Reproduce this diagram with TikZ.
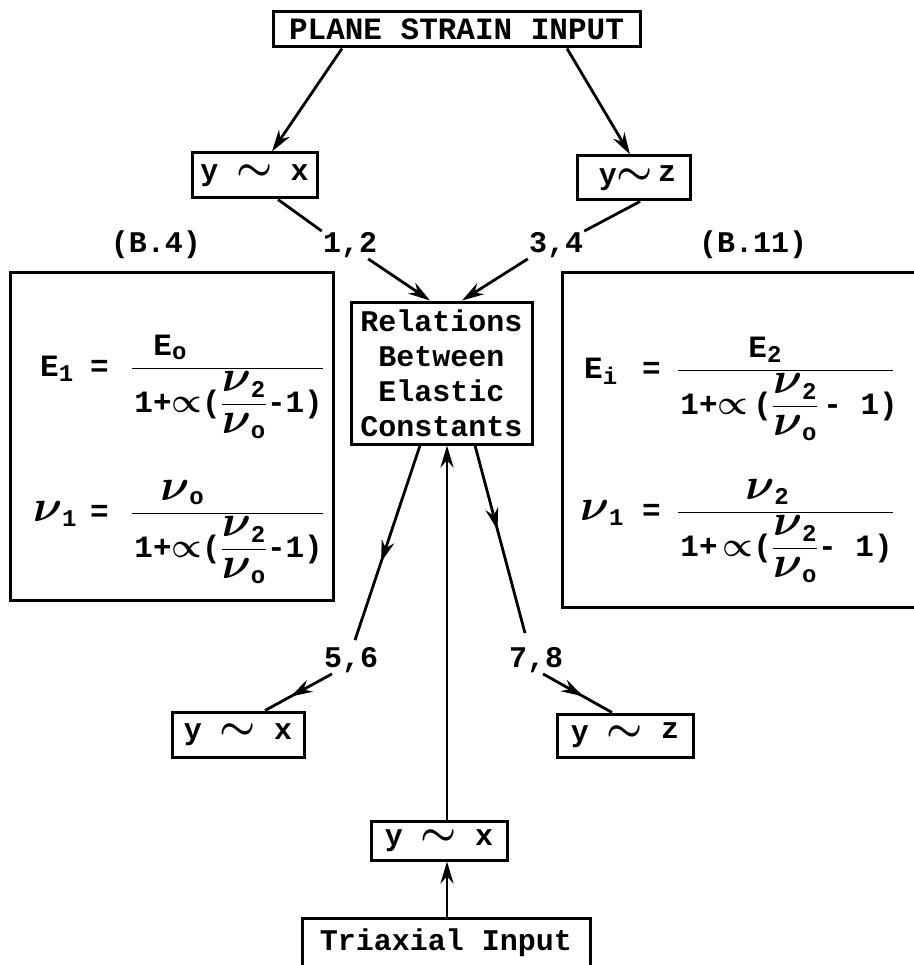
\RequirePackage{fix-cm}
\documentclass[tikz,border=0pt]{standalone}
\usepackage{amsmath}
\usepackage{graphicx}
\usepackage{fontspec}
\setmonofont{Liberation Mono}
\usetikzlibrary{arrows.meta,decorations.markings}
\newcommand\tx[1]{\text{\ttfamily\bfseries #1}}
\newcommand\sbx[1]{_{\hbox{\ttfamily\bfseries\fontsize{24}{24}\selectfont #1}}}
\newcommand\nn{\mathord{\scalebox{1.45}{$\boldsymbol\nu$}}}
\newcommand\pp{\mathord{\scalebox{1.1}{$\boldsymbol\propto$}}}
\newcommand\tld{\scalebox{1.35}{$\boldsymbol\sim$}}
\newcommand\fr[5]{$\dfrac{\makebox[#1][l]{\hspace{#2}#3}}{\makebox[#1][l]{\hspace{#4}#5}}$}
\begin{document}
\begin{tikzpicture}[x=1pt,y=-1pt,
  box/.style={draw,line width=3pt,inner sep=0pt,font=\ttfamily\bfseries\fontsize{30}{35}\selectfont},
  lbl/.style={inner sep=1pt,font=\ttfamily\bfseries\fontsize{30}{35}\selectfont},
  conn/.style={line width=2.8pt},
  tip/.style={-{Stealth[length=22pt,width=13pt]}},
  midarr/.style={postaction={decorate},decoration={markings,mark=at position #1 with {\arrow{Stealth[length=22pt,width=13pt]}}}},
  fbox/.style={draw,line width=3pt,inner sep=0pt},
  form/.style={inner sep=0pt,anchor=base west,font=\ttfamily\bfseries\fontsize{31}{36}\selectfont}
]
\useasboundingbox[fill=white] (0,0) rectangle (913,965);

\node[box,minimum width=367pt,minimum height=35pt,font=\ttfamily\bfseries\fontsize{31}{35}\selectfont] (top) at (456.5,29.5) {PLANE STRAIN INPUT};
\node[box,minimum width=125pt,minimum height=45pt] (yx1) at (254.5,175.5) {y~\tld~x};
\node[box,minimum width=113pt,minimum height=44pt] (yz1) at (633.5,178) {\hspace{8pt}y\tld\,\raisebox{3pt}{z}};

\node[lbl] (l12) at (350,245) {1,2};
\node[lbl] (l34) at (556,245) {3,4};
\node[lbl] (b4) at (156,245) {(B.4)};
\node[lbl] (b11) at (753,245) {(B.11)};

\node[box,minimum width=181pt,minimum height=142pt,align=center] (rel) at (441.5,373) {Relations\\Between\\Elastic\\Constants};

\node[fbox,minimum width=323pt,minimum height=327pt] (lf) at (171.5,436.5) {};
\node[fbox,minimum width=370pt,minimum height=334pt] (rf) at (747,440) {};

% left formulas
\node[form] (f1l) at (40,376) {$\tx{E}\sbx{1}$};
\node[form] (f1e) at (90,376) {=};
\node[form] (f1) at (131,376) {\fr{191pt}{21pt}{$\tx{E}\sbx{o}$}{2pt}{$\tx{1+}\pp\tx{(}\dfrac{\nn\sbx{2}}{\nn\sbx{o}}\tx{-1)}$}};
\node[form] (f2l) at (33,521) {$\nn\sbx{1}$};
\node[form] (f2e) at (90,521) {=};
\node[form] (f2) at (131,521) {\fr{191pt}{28pt}{$\nn\sbx{o}$}{2pt}{$\tx{1+}\pp\tx{(}\dfrac{\nn\sbx{2}}{\nn\sbx{o}}\tx{-1)}$}};
% right formulas
\node[form] (f3l) at (584,378) {$\tx{E}\sbx{i}$};
\node[form] (f3e) at (642,378) {=};
\node[form] (f3) at (677,378) {\fr{215pt}{70pt}{$\tx{E}\sbx{2}$}{2pt}{$\tx{1+}\pp\,\tx{(}\dfrac{\nn\sbx{2}}{\nn\sbx{o}}\,\tx{- 1)}$}};
\node[form] (f4l) at (580,520) {$\nn\sbx{1}$};
\node[form] (f4e) at (642,520) {=};
\node[form] (f4) at (677,520) {\fr{215pt}{67pt}{$\nn\sbx{2}$}{2pt}{$\tx{1+}\,\pp\tx{(}\dfrac{\nn\sbx{2}}{\nn\sbx{o}}\tx{- 1)}$}};

\node[lbl] (l56) at (351,660) {5,6};
\node[lbl] (l78) at (536,660) {7,8};
\node[box,minimum width=132pt,minimum height=45pt] (yx2) at (238,734.5) {y~\tld~x};
\node[box,minimum width=136pt,minimum height=43pt] (yz2) at (625,735.5) {y~\tld~\raisebox{3pt}{z}};
\node[box,minimum width=136pt,minimum height=39pt] (yx3) at (439,840.5) {y~\tld~x};
\node[box,minimum width=288pt,minimum height=50pt] (tri) at (446,943) {Triaxial Input};

\draw[conn,tip] ([xshift=-114.5pt]top.south) -- ([xshift=17.5pt]yx1.north);
\draw[conn,tip] ([xshift=110.5pt]top.south) -- ([xshift=-3.5pt]yz1.north);
\draw[conn] ([xshift=23.5pt]yx1.south) -- (l12.north west);
\draw[conn,tip] ([xshift=-10pt]l12.south east) -- ([xshift=-11.5pt]rel.north);
\draw[conn] ([xshift=6.5pt]yz1.south) -- (l34.north east);
\draw[conn,tip] (l34.south west) -- ([xshift=20.5pt]rel.north);
\draw[conn,midarr=0.6] ([xshift=-21.5pt]rel.south) -- ([xshift=4pt,yshift=6pt]l56.north);
\draw[conn,midarr=0.62] ([xshift=-19pt]l56.south) -- ([xshift=27pt]yx2.north);
\draw[conn,midarr=0.45] ([xshift=33.5pt]rel.south) -- ([xshift=-11pt,yshift=13pt]l78.north);
\draw[conn,midarr=0.58] ([xshift=7pt]l78.south) -- ([xshift=-13pt]yz2.north);
\draw[conn,tip] ([xshift=8pt]yx3.north) -- ([xshift=5.5pt]rel.south);
\draw[conn,tip] ([xshift=1pt]tri.north) -- ([xshift=8pt]yx3.south);
\end{tikzpicture}
\end{document}
